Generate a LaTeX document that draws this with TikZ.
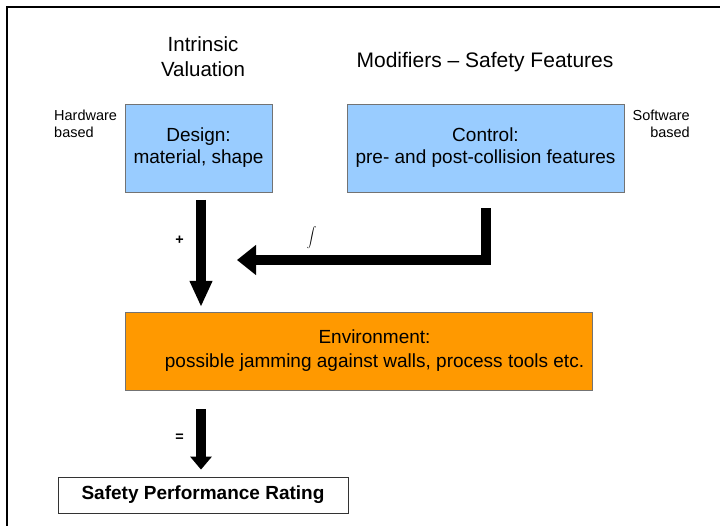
\documentclass[tikz,border=0pt]{standalone}
\usepackage{fontspec}
\setmainfont{Liberation Sans}
\usetikzlibrary{arrows.meta}
\definecolor{boxblue}{HTML}{99CCFF}
\definecolor{boxorange}{HTML}{FF9900}
\tikzset{
  block/.style={draw=black!55, line width=0.8pt, align=center, inner sep=0pt},
  bigarrow/.style={line width=10pt},
}
\begin{document}
\begin{tikzpicture}[x=1pt,y=-1pt]
  % frame
  \useasboundingbox (0,0) rectangle (720,526);
  \draw[line width=1.5pt] (7,526) -- (7,7) -- (720,7);
  % headings
  \node[font=\fontsize{20.5}{25}\selectfont, align=center] (intr) at (203,57) {Intrinsic\\Valuation};
  \node[font=\fontsize{21}{25}\selectfont] (mods) at (485,62) {Modifiers -- Safety Features};
  \node[font=\fontsize{14.5}{17}\selectfont, align=left, anchor=north west, inner sep=0pt] (hw) at (54,110) {Hardware\\based};
  \node[font=\fontsize{14.5}{17}\selectfont, align=right, anchor=north east, inner sep=0pt] (sw) at (690,110) {Software\\based};
  % the boxes
  \node[block, fill=boxblue, minimum width=147pt, minimum height=88pt,
        font=\fontsize{19}{22}\selectfont] (design) at (198.5,148) {Design:\\material, shape};
  \node[block, fill=boxblue, minimum width=277pt, minimum height=88pt,
        font=\fontsize{19}{22}\selectfont] (ctrl) at (485.5,148) {Control:\\pre- and post-collision features};
  \node[block, fill=boxorange, minimum width=467pt, minimum height=78pt,
        font=\fontsize{19}{24}\selectfont] (env) at (358.5,351)
        {\hspace*{32pt}Environment:\\\hspace*{32pt}possible jamming against walls, process tools etc.};
  \node[block, draw=black!80, fill=white, minimum width=290pt, minimum height=36pt,
        font=\bfseries\fontsize{19}{20}\selectfont] (rating) at (203,495) {Safety Performance Rating};
  % the arrows
  \coordinate (merge) at (237,260);
  \draw[bigarrow, -{Triangle[width=21pt,length=26pt]}, shorten <=8pt, shorten >=5pt]
    (201,192) -- node[left=9pt, pos=0.4, font=\bfseries\Large]{+} (201,312);
  \draw[bigarrow, -{Triangle[width=29pt,length=19pt]}, shorten <=16pt, line join=miter]
    (ctrl.south) |- node[pos=0.85, above=3pt, font=\fontsize{16}{18}\selectfont]{$\displaystyle\int$} (merge);
  \draw[bigarrow, -{Triangle[width=21pt,length=13pt]}, shorten <=19pt, shorten >=7pt]
    (env.south -| 201,0) -- node[left=9pt, pos=0.55, font=\bfseries\Large]{=} (rating.north -| 201,0);
\end{tikzpicture}
\end{document}
